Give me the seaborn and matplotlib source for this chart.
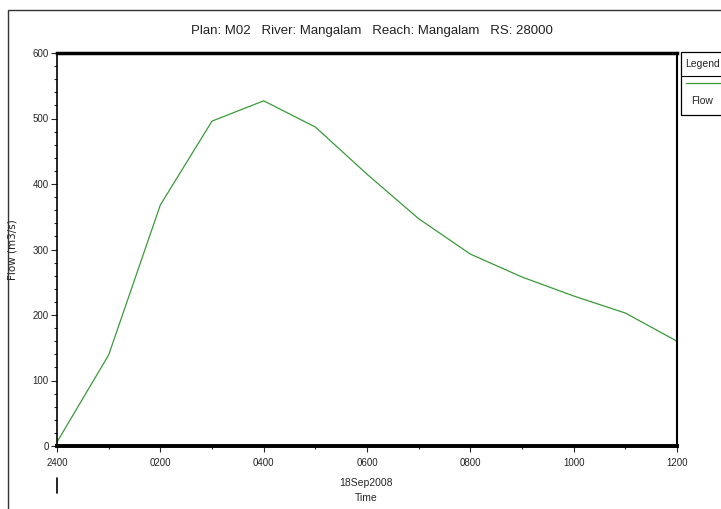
import matplotlib
matplotlib.use("Agg")
import numpy as np
import pandas as pd
import seaborn as sns
import matplotlib.pyplot as plt
from matplotlib.patches import Rectangle
from matplotlib.lines import Line2D
from matplotlib.ticker import MultipleLocator

# hours after 2400 on 18Sep2008
hours = [0, 1, 2, 3, 4, 5, 6, 7, 8, 9, 10, 11, 12]
flow = [6, 139, 368, 496, 527, 487, 415, 347, 293, 258, 229, 203, 160]
tick_hours = [0, 2, 4, 6, 8, 10, 12]
tick_labels = ["2400", "0200", "0400", "0600", "0800", "1000", "1200"]

df = pd.DataFrame({"hour": hours, "flow": flow})

sns.set_style("white")
plt.rcParams['font.family'] = ['Liberation Sans', 'DejaVu Sans']

W, H = 721, 509
fig = plt.figure(figsize=(W / 100, H / 100), dpi=100)
ax = fig.add_axes([57 / W, 1 - 446 / H, 620 / W, 393 / H])

sns.lineplot(data=df, x="hour", y="flow", color="#3a9a3a", linewidth=0.9, ax=ax)

ax.set_xlim(0, 12)
ax.set_ylim(0, 600)
ax.set_xticks(tick_hours)
ax.set_xticklabels(tick_labels)
ax.xaxis.set_minor_locator(MultipleLocator(1))
ax.yaxis.set_major_locator(MultipleLocator(100))
ax.yaxis.set_minor_locator(MultipleLocator(20))
ax.tick_params(axis="both", which="major", direction="out", length=4, width=0.8,
               labelsize=7, pad=2, bottom=True, left=True)
ax.tick_params(axis="x", which="major", pad=5)
ax.tick_params(axis="both", which="minor", direction="out", length=2.5, width=0.8,
               bottom=True, left=True)
ax.set_xlabel("")
ax.set_ylabel("Flow (m3/s)", fontsize=7.5, family="DejaVu Sans", color="#222222")
ax.yaxis.set_label_coords((17 - 57) / 620, 0.5)
ax.grid(False)
for side, lw in [("top", 2.5), ("bottom", 2.8), ("left", 1.2), ("right", 1.5)]:
    ax.spines[side].set_visible(True)
    ax.spines[side].set_color("black")
    ax.spines[side].set_linewidth(lw)

fig.text(372 / W, 1 - 31 / H, "Plan: M02   River: Mangalam   Reach: Mangalam   RS: 28000",
         ha="center", va="center", fontsize=9.5, color="#222222")
fig.text(366 / W, 1 - 483 / H, "18Sep2008", ha="center", va="center", fontsize=7.5)
fig.text(366 / W, 1 - 498 / H, "Time", ha="center", va="center", fontsize=7.5)
fig.add_artist(Line2D([57 / W, 57 / W], [1 - 478 / H, 1 - 493 / H],
                      color="black", linewidth=1.2))

# outer frame
fig.add_artist(Rectangle((8 / W, -0.1), 1.2, 1 - 10 / H + 0.1, fill=False,
                         edgecolor="#333333", linewidth=1.0))

# legend box
fig.add_artist(Rectangle((681 / W, 1 - 115 / H), 0.1, 63 / H, fill=False,
                         edgecolor="black", linewidth=0.9))
fig.add_artist(Line2D([681 / W, 1], [1 - 76 / H, 1 - 76 / H], color="black", linewidth=0.8))
fig.add_artist(Line2D([686 / W, 1], [1 - 83 / H, 1 - 83 / H], color="#3a9a3a", linewidth=0.9))
fig.text(702 / W, 1 - 64 / H, "Legend", ha="center", va="center", fontsize=7.5)
fig.text(702 / W, 1 - 101 / H, "Flow", ha="center", va="center", fontsize=7.5)

fig.savefig("out.png", dpi=100)
